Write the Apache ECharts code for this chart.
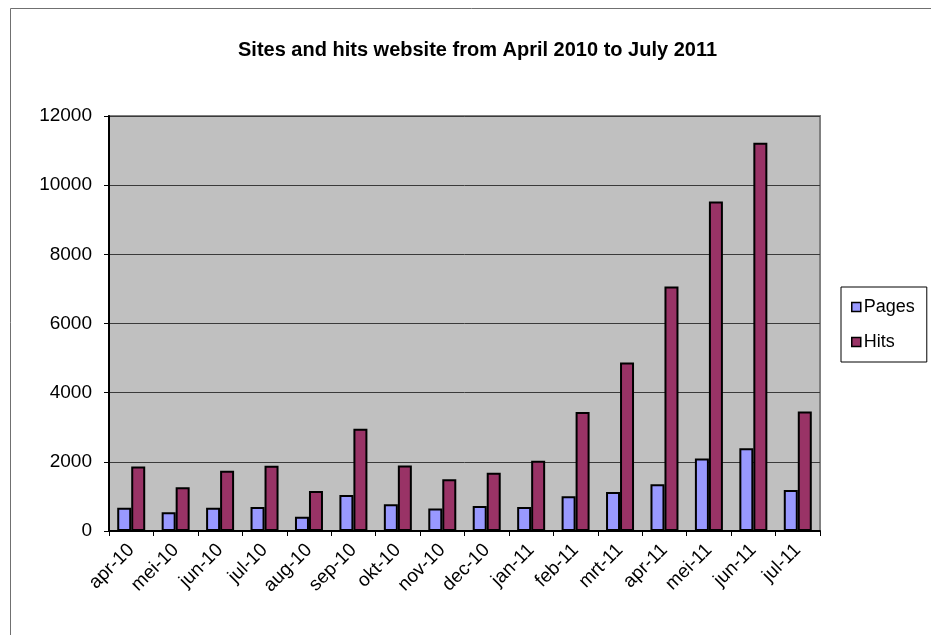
<!DOCTYPE html>
<html>
<head>
<meta charset="utf-8">
<script src="https://cdn.jsdelivr.net/npm/echarts@6/dist/echarts.min.js"></script>
<style>html,body{margin:0;padding:0;background:#fff;}#c{width:931px;height:635px;}</style>
</head>
<body>
<div id="c"></div>
<script>
const categories = ['apr-10','mei-10','jun-10','jul-10','aug-10','sep-10','okt-10','nov-10','dec-10','jan-11','feb-11','mrt-11','apr-11','mei-11','jun-11','jul-11'];
const pages = [675, 541, 675, 696, 415, 1043, 773, 647, 725, 696, 1005, 1130, 1353, 2097, 2396, 1188];
const hits = [1864, 1266, 1739, 1884, 1159, 2957, 1894, 1498, 1681, 2029, 3440, 4870, 7072, 9527, 11226, 3458];
const titleText = 'Sites and hits website from April 2010 to July 2011';

const chart = echarts.init(document.getElementById('c'), null, {renderer: 'canvas'});
const font = 'Liberation Sans, Arial, sans-serif';
chart.setOption({
  animation: false,
  backgroundColor: '#ffffff',
  textStyle: {fontFamily: font, color: '#000'},
  graphic: [{
    type: 'rect', z: -10,
    shape: {x: 10.5, y: 8.5, width: 1000, height: 1000},
    style: {fill: 'none', stroke: '#707070', lineWidth: 1}
  }],
  title: {
    text: titleText,
    left: 233,
    top: 35,
    textStyle: {fontFamily: font, fontSize: 20, fontWeight: 'bold', color: '#000'}
  },
  legend: {
    data: ['Pages', 'Hits'],
    orient: 'vertical',
    left: 841,
    top: 287,
    padding: [11, 12, 11, 10],
    itemWidth: 9,
    itemHeight: 9,
    itemGap: 17,
    icon: 'rect',
    borderColor: '#000',
    borderWidth: 1,
    itemStyle: {borderColor: '#000', borderWidth: 1.5},
    textStyle: {fontFamily: font, fontSize: 18, color: '#000', padding: [0, 0, 0, -2]}
  },
  grid: {
    left: 109, right: 111, top: 116, bottom: 104,
    show: true,
    backgroundColor: '#c0c0c0',
    borderColor: '#808080',
    borderWidth: 2
  },
  xAxis: {
    type: 'category',
    data: categories,
    axisLine: {lineStyle: {color: '#000', width: 2}},
    axisTick: {show: true, length: 5, lineStyle: {color: '#000', width: 1}},
    axisLabel: {rotate: 45, margin: 16, fontFamily: font, fontSize: 19, color: '#000'}
  },
  yAxis: {
    type: 'value',
    min: 0, max: 12000, interval: 2000,
    axisLine: {show: true, lineStyle: {color: '#000', width: 2}},
    axisTick: {show: true, length: 5, lineStyle: {color: '#000', width: 1}},
    axisLabel: {margin: 17, fontFamily: font, fontSize: 19, color: '#000', formatter: v => String(v)},
    splitLine: {show: true, lineStyle: {color: '#3a3a3a', width: 1}}
  },
  series: [
    {name: 'Pages', type: 'bar', data: pages, barWidth: 14, barGap: '0%',
     itemStyle: {color: '#9999ff', borderColor: '#000', borderWidth: 2}},
    {name: 'Hits', type: 'bar', data: hits, barWidth: 14, barGap: '0%',
     itemStyle: {color: '#993366', borderColor: '#000', borderWidth: 2}}
  ]
});
</script>
</body>
</html>
